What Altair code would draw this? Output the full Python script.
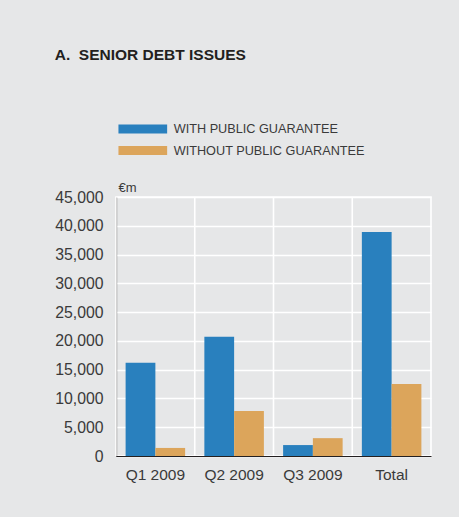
import altair as alt
import pandas as pd

quarters = ["Q1 2009", "Q2 2009", "Q3 2009", "Total"]
series = ["WITH PUBLIC GUARANTEE", "WITHOUT PUBLIC GUARANTEE"]
with_guarantee = [16200, 20700, 1900, 38900]
without_guarantee = [1400, 7800, 3100, 12500]
y_ticks = [0, 5000, 10000, 15000, 20000, 25000, 30000, 35000, 40000, 45000]
colors = ["#2980be", "#dca55b"]

rows = []
for q, a, b in zip(quarters, with_guarantee, without_guarantee):
    rows.append({"quarter": q, "series": series[0], "value": a})
    rows.append({"quarter": q, "series": series[1], "value": b})
df = pd.DataFrame(rows)
grid_df = pd.DataFrame({"quarter": quarters})

FONT = "Liberation Sans"
TXT = "#3a3a3a"

xscale = alt.Scale(paddingInner=0, paddingOuter=0)
xaxis = alt.Axis(
    title=None, labelAngle=0, ticks=False, tickSize=0, grid=False,
    labelPadding=11, labelFontSize=15.5, labelFont=FONT, labelColor=TXT,
    domainColor="#231f20", domainWidth=1.2,
)

grid = alt.Chart(grid_df).mark_rule(color="white", strokeWidth=1.6).encode(
    x=alt.X("quarter:N", sort=quarters, scale=xscale, bandPosition=0, axis=xaxis)
)

bars = alt.Chart(df).mark_bar().encode(
    x=alt.X("quarter:N", sort=quarters, scale=xscale, axis=xaxis),
    xOffset=alt.XOffset("series:N", sort=series,
                        scale=alt.Scale(paddingOuter=0.323, paddingInner=0)),
    y=alt.Y(
        "value:Q",
        scale=alt.Scale(domain=[0, 45000], nice=False),
        axis=alt.Axis(
            values=y_ticks, format=",d", title="€m", titleAngle=0,
            titleX=2, titleY=-6, titleAlign="left", titleBaseline="alphabetic",
            titleFont=FONT, titleFontSize=13, titleFontWeight="normal", titleColor=TXT,
            ticks=False, tickSize=0, labelPadding=13, labelFontSize=15.8,
            labelFont=FONT, labelColor=TXT, grid=True, gridColor="white",
            gridWidth=1.6, domainColor="#231f20", domainWidth=1.2,
        ),
    ),
    color=alt.Color(
        "series:N",
        sort=series,
        scale=alt.Scale(domain=series, range=colors),
        legend=alt.Legend(
            title=None, orient="none", legendX=2, legendY=-74.6,
            direction="vertical",
            symbolType="M-4,-0.74H4V0.74H-4Z", symbolSize=148.2,
            symbolOffset=18.3,
            symbolStrokeWidth=0, symbolOpacity=1,
            labelFont=FONT, labelFontSize=12.7, labelColor=TXT, labelLimit=400,
            labelOffset=24.4, rowPadding=7.7, padding=0,
        ),
    ),
)

chart = alt.layer(grid, bars).properties(
    width=315,
    height=259,
    autosize=alt.AutoSizeParams(type="none"),
    padding={"left": 116, "top": 197, "right": 28, "bottom": 61},
    background="#e6e7e8",
    title=alt.TitleParams(
        "A.\u00a0\u00a0SENIOR DEBT ISSUES", anchor="start", frame="bounds",
        font=FONT, fontSize=15.5, fontWeight="bold", color="#231f20", offset=59,
    ),
).configure_view(stroke="white", strokeWidth=1.6)

chart.save("out.html", embed_options={"renderer": "svg", "actions": False})
